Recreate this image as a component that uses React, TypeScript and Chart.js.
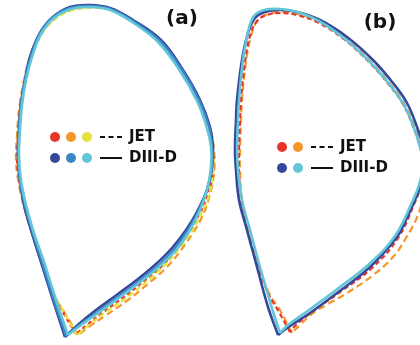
import React, { useEffect, useRef } from "react";
import { Chart, registerables } from "chart.js";

Chart.register(...registerables);

// Plasma boundary contours (R, Z) in figure units; Z axis points downward.
// Panel (a)
const jetA1Red: [number, number][] = [
  [76, 334], [64, 314], [53, 294], [43, 267], [34, 240], [26, 210], [20, 185], [17, 160], [18, 135], [20, 110],
  [24, 85], [30, 60], [39, 37], [52, 20], [69, 10], [89, 7], [110, 9], [133, 21], [160, 41], [182, 71],
  [199, 101], [209, 128], [213, 150], [213, 173], [207, 197], [199, 215], [189, 232], [176, 250], [162, 266],
  [144, 281], [124, 297], [102, 313], [88, 324], [76, 334],
];
const jetA2Orange: [number, number][] = [
  [78, 335], [66, 315], [54, 295], [44, 268], [34, 240], [25, 210], [19, 185], [16, 160], [17, 135], [19, 110],
  [23, 85], [29, 60], [38, 37], [51, 20], [68, 10], [88, 7], [110, 9], [133, 21], [161, 41], [183, 71],
  [200, 101], [210, 128], [214, 150], [214, 173], [209, 198], [202, 217], [193, 233], [181, 250], [167, 267],
  [149, 283], [128, 300], [105, 316], [90, 326], [78, 335],
];
const jetA3Yellow: [number, number][] = [
  [77, 335], [65, 314], [54, 294], [44, 268], [35, 240], [27, 210], [21, 185], [18, 160], [19, 135], [21, 110],
  [25, 85], [31, 60], [40, 37], [53, 21], [70, 11], [90, 8], [111, 10], [134, 22], [161, 42], [183, 72],
  [200, 102], [210, 129], [213, 150], [213, 173], [208, 198], [200, 216], [191, 233], [178, 250], [164, 266],
  [146, 282], [126, 298], [103, 314], [89, 325], [77, 335],
];
const diiidA1Dark: [number, number][] = [
  [65, 337], [53, 300], [41, 262], [31, 230], [24, 205], [20, 180], [18, 155], [19, 130], [21, 105], [25, 80],
  [30, 57], [40, 33], [53, 17], [70, 7], [90, 5], [110, 8], [133, 20], [161, 40], [183, 70], [200, 100],
  [210, 127], [213, 147], [212, 167], [207, 190], [198, 210], [186, 230], [172, 248], [156, 264], [138, 279],
  [118, 294], [96, 310], [80, 323], [65, 337],
];
const diiidA2Mid: [number, number][] = [
  [66, 336], [54, 300], [42, 262], [32, 230], [25, 205], [20, 180], [18, 155], [19, 130], [21, 105], [25, 80],
  [31, 57], [40, 33], [53, 17], [70, 8], [90, 6], [110, 9], [133, 21], [160, 41], [182, 70], [199, 100],
  [209, 127], [212, 147], [212, 167], [207, 190], [199, 210], [188, 230], [175, 248], [159, 265], [141, 280],
  [121, 295], [99, 311], [82, 323], [66, 336],
];
const diiidA3Cyan: [number, number][] = [
  [68, 335], [56, 300], [44, 262], [33, 230], [26, 205], [21, 180], [19, 155], [20, 130], [22, 105], [26, 80],
  [32, 57], [41, 34], [54, 18], [71, 9], [90, 7], [110, 10], [132, 22], [158, 42], [180, 71], [197, 101],
  [207, 128], [211, 147], [211, 167], [207, 190], [200, 210], [190, 230], [177, 249], [161, 265], [143, 280],
  [123, 295], [101, 311], [84, 323], [68, 335],
];
// Panel (b)
const jetB1Red: [number, number][] = [
  [290, 332], [279, 312], [268, 293], [256, 260], [247, 230], [241, 200], [239, 170], [239, 150], [240, 120],
  [241, 100], [245, 62], [250, 36], [257, 21], [267, 15], [281, 13], [297, 15], [319, 23], [345, 40], [370, 63],
  [390, 86], [404, 106], [414, 129], [420, 147], [424, 165], [421, 185], [415, 202], [398, 238], [372, 268],
  [340, 292], [312, 312], [296, 325], [290, 332],
];
const jetB2Orange: [number, number][] = [
  [292, 333], [281, 312], [269, 293], [257, 260], [248, 230], [242, 200], [240, 170], [240, 150], [241, 120],
  [242, 100], [246, 62], [251, 36], [258, 20], [268, 14], [282, 12], [298, 14], [320, 22], [346, 39], [371, 62],
  [391, 85], [405, 105], [415, 128], [421, 147], [425, 170], [423, 195], [418, 215], [406, 238], [393, 257],
  [372, 276], [347, 293], [328, 304], [313, 313], [300, 325], [292, 333],
];
const diiidB1Dark: [number, number][] = [
  [278, 335], [268, 307], [257, 267], [247, 230], [239, 200], [236, 170], [235, 150], [236, 120], [237, 100],
  [242, 60], [248, 33], [255, 18], [265, 12], [280, 10], [297, 12], [320, 20], [347, 37], [373, 60], [393, 83],
  [407, 103], [417, 127], [423, 147], [425, 165], [421, 185], [415, 200], [406, 220], [397, 237], [370, 267],
  [337, 293], [310, 313], [287, 328], [278, 335],
];
const diiidB2Cyan: [number, number][] = [
  [280, 333], [271, 305], [260, 267], [250, 230], [242, 200], [238, 170], [237, 150], [238, 120], [239, 100],
  [243, 60], [248, 32], [254, 16], [264, 10], [280, 9], [297, 12], [319, 21], [345, 39], [370, 62], [390, 85],
  [404, 105], [414, 128], [420, 147], [423, 165], [419, 185], [413, 200], [395, 236], [368, 265], [336, 290],
  [309, 310], [288, 325], [280, 333],
];

const panelLabels = ["(a)", "(b)"];
const legendTexts = ["JET", "DIII-D"];

const RED = "#e8352a";
const ORANGE = "#f5962a";
const YELLOW = "#e6e23c";
const DARK = "#34499b";
const MID = "#3b86c8";
const CYAN = "#62c6d8";

const toPts = (a: [number, number][]) => a.map(([x, y]) => ({ x, y }));

const solid = (label: string, data: [number, number][], color: string) => ({
  label,
  data: toPts(data),
  borderColor: color,
  backgroundColor: color,
  borderWidth: 2.6,
  showLine: true,
  pointRadius: 0,
  tension: 0.4,
  fill: false,
});
const dashed = (label: string, data: [number, number][], color: string, dash: number[]) => ({
  ...solid(label, data, color),
  borderWidth: 2.2,
  borderDash: dash,
});

const overlay = {
  id: "overlay",
  afterDraw(chart: any) {
    const { ctx, scales } = chart;
    const px = (v: number) => scales.x.getPixelForValue(v);
    const py = (v: number) => scales.y.getPixelForValue(v);
    ctx.save();
    ctx.fillStyle = "#111";
    ctx.textBaseline = "middle";
    ctx.textAlign = "center";
    ctx.font = "bold 20px 'DejaVu Sans'";
    ctx.fillText(panelLabels[0], px(182), py(19));
    ctx.fillText(panelLabels[1], px(380), py(23));

    const drawLegend = (x0: number, y1: number, y2: number, jetCols: string[], dCols: string[]) => {
      const step = 16;
      jetCols.forEach((c, i) => {
        ctx.beginPath();
        ctx.fillStyle = c;
        ctx.arc(px(x0 + i * step), py(y1), 5, 0, Math.PI * 2);
        ctx.fill();
      });
      dCols.forEach((c, i) => {
        ctx.beginPath();
        ctx.fillStyle = c;
        ctx.arc(px(x0 + i * step), py(y2), 5, 0, Math.PI * 2);
        ctx.fill();
      });
      const lx = x0 + (jetCols.length - 1) * step + 13;
      ctx.strokeStyle = "#111";
      ctx.lineWidth = 2;
      ctx.setLineDash([5, 3.5]);
      ctx.beginPath();
      ctx.moveTo(px(lx), py(y1));
      ctx.lineTo(px(lx + 22), py(y1));
      ctx.stroke();
      ctx.setLineDash([]);
      ctx.beginPath();
      ctx.moveTo(px(lx), py(y2));
      ctx.lineTo(px(lx + 22), py(y2));
      ctx.stroke();
      ctx.fillStyle = "#111";
      ctx.textAlign = "left";
      ctx.font = "bold 15px 'DejaVu Sans'";
      ctx.fillText(legendTexts[0], px(lx + 29), py(y1 + 0.5));
      ctx.fillText(legendTexts[1], px(lx + 29), py(y2 + 0.5));
    };
    drawLegend(55, 137, 158, [RED, ORANGE, YELLOW], [DARK, MID, CYAN]);
    drawLegend(282, 147, 168, [RED, ORANGE], [DARK, CYAN]);
    ctx.restore();
  },
};

export default function App() {
  const ref = useRef<HTMLCanvasElement | null>(null);
  useEffect(() => {
    document.body.style.margin = "0";
    const canvas = ref.current;
    if (!canvas) return;
    const chart = new Chart(canvas, {
      type: "scatter",
      data: {
        datasets: [
          solid("DIII-D a3", diiidA3Cyan, CYAN),
          solid("DIII-D a2", diiidA2Mid, MID),
          solid("DIII-D a1", diiidA1Dark, DARK),
          solid("DIII-D b2", diiidB2Cyan, CYAN),
          solid("DIII-D b1", diiidB1Dark, DARK),
          dashed("JET a3", jetA3Yellow, YELLOW, [6, 3]),
          dashed("JET a1", jetA1Red, RED, [4, 3]),
          dashed("JET a2", jetA2Orange, ORANGE, [7, 4]),
          dashed("JET b1", jetB1Red, RED, [5, 3]),
          dashed("JET b2", jetB2Orange, ORANGE, [7, 4]),
        ] as any,
      },
      options: {
        animation: false,
        responsive: false,
        devicePixelRatio: 1,
        layout: { padding: 0 },
        plugins: { legend: { display: false }, tooltip: { enabled: false } },
        scales: {
          x: { type: "linear", min: 0, max: 420, display: false },
          y: { type: "linear", min: 0, max: 345, reverse: true, display: false },
        },
      },
      plugins: [overlay],
    });
    return () => chart.destroy();
  }, []);
  return (
    <div style={{ width: 420, height: 345, background: "#fff" }}>
      <canvas ref={ref} width={420} height={345} style={{ display: "block" }} />
    </div>
  );
}
